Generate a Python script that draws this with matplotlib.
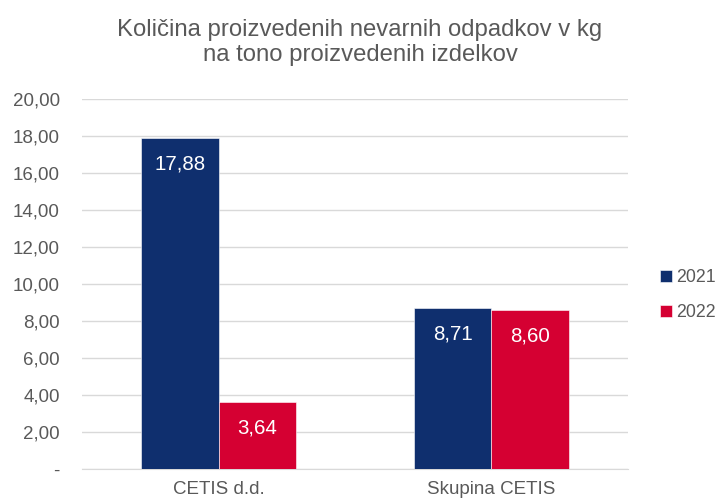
import matplotlib.pyplot as plt
import numpy as np

plt.rcParams['font.family'] = ['Liberation Sans', 'DejaVu Sans']

# podatki
kategorije = ['CETIS d.d.', 'Skupina CETIS']
leta = ['2021', '2022']
vrednosti_2021 = [17.88, 8.71]
vrednosti_2022 = [3.64, 8.60]
barve = ['#0F2F6E', '#D50032']
y_ticks = np.arange(0, 21, 2)

fig = plt.figure(figsize=(7.2, 5.01), dpi=100)
ax = fig.add_axes([0.114, 0.064, 0.758, 0.738])

x = np.arange(len(kategorije))
w = 0.283

serije = [vrednosti_2021, vrednosti_2022]
for i, vals in enumerate(serije):
    pos = x + (i - 0.5) * w
    bars = ax.bar(pos, vals, width=w, color=barve[i], label=leta[i],
                  edgecolor='white', linewidth=0.4, zorder=3)
    # oznake vrednosti znotraj stolpca
    for b, v in zip(bars, vals):
        ax.annotate(f'{v:.2f}'.replace('.', ','),
                    (b.get_x() + b.get_width() / 2, v),
                    xytext=(0, -26), textcoords='offset pixels',
                    ha='center', va='center', color='white', fontsize=14.8, zorder=4)

ax.set_xlim(-0.5, 1.5)
ax.set_ylim(0, 20)
ax.set_yticks(y_ticks)
ax.set_yticklabels(['-'] + [f'{t:.2f}'.replace('.', ',') for t in y_ticks[1:]])
ax.set_xticks(x)
ax.set_xticklabels(kategorije)
ax.tick_params(axis='both', length=0, colors='#595959')
ax.tick_params(axis='y', pad=16, labelsize=13.5)
ax.tick_params(axis='x', pad=9, labelsize=13.5)
ax.grid(axis='y', color='#D9D9D9', linewidth=1, zorder=0)
for s in ['top', 'right', 'left']:
    ax.spines[s].set_visible(False)
ax.spines['bottom'].set_color('#D9D9D9')

fig.suptitle('Količina proizvedenih nevarnih odpadkov v kg\nna tono proizvedenih izdelkov',
             x=0.5, y=0.962, fontsize=17.2, color='#595959', linespacing=1.15)

ax.legend(loc='center left', bbox_to_anchor=(1.03, 0.47), frameon=False,
          handlelength=0.65, handleheight=0.65, handletextpad=0.25,
          labelspacing=1.0, fontsize=12.8, labelcolor='#595959')

fig.savefig('out.png', dpi=100)
